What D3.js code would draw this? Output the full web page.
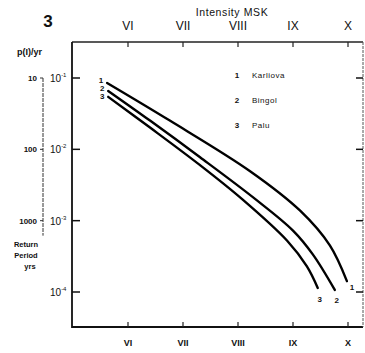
<!DOCTYPE html>
<html><head><meta charset="utf-8">
<script src="https://cdn.jsdelivr.net/npm/d3@7/dist/d3.min.js"></script>
<style>body{margin:0;background:#fff}svg{display:block}text{font-family:"Liberation Sans",Arial,sans-serif;fill:#111}</style>
</head><body>
<svg id="c" width="365" height="353"></svg>
<script>
const intensityTicks = [6, 7, 8, 9, 10];
const intensityLabels = ["VI", "VII", "VIII", "IX", "X"];
const probTicks = [1e-1, 1e-2, 1e-3, 1e-4];
const probExponents = ["-1", "-2", "-3", "-4"];
const returnLabels = ["10", "100", "1000"];
const seriesNames = ["Karliova", "Bingol", "Palu"];
const karliovaI = [5.62, 6.76, 8.22, 9.13, 9.67, 9.98];
const karliovaP = [0.0852, 0.0253, 0.00494, 0.00138, 0.00045, 0.000142];
const bingolI = [5.64, 6.40, 7.31, 8.31, 9.00, 9.36, 9.76];
const bingolP = [0.0659, 0.0253, 0.00774, 0.00202, 0.000726, 0.000337, 0.000107];
const paluI = [5.64, 6.40, 7.31, 8.07, 8.89, 9.25, 9.45];
const paluP = [0.0544, 0.0202, 0.0060, 0.00202, 0.000527, 0.00023, 0.000114];

const svg = d3.select("#c");
const x = d3.scaleLinear().domain([6, 10]).range([128, 348]);
const y = d3.scaleLog().domain([1e-1, 1e-4]).range([78, 292]);
const L = 72, R = 363, T = 42, B = 327;

// frame
svg.append("path").attr("d", `M${L},${T}H${R}`).attr("stroke", "#222").attr("stroke-width", 1.6).attr("fill", "none");
svg.append("path").attr("d", `M${L},${T}V${B}H${R}`).attr("stroke", "#111").attr("stroke-width", 1.8).attr("fill", "none");
svg.append("path").attr("d", `M${R},${T}V${B}`).attr("stroke", "#555").attr("stroke-width", 1).attr("stroke-dasharray", "3,1").attr("fill", "none");

// ticks
intensityTicks.forEach((v, i) => {
  svg.append("line").attr("x1", x(v)).attr("x2", x(v)).attr("y1", T).attr("y2", T + 5).attr("stroke", "#222").attr("stroke-width", 1.2);
  svg.append("line").attr("x1", x(v)).attr("x2", x(v)).attr("y1", B).attr("y2", B - 5).attr("stroke", "#222").attr("stroke-width", 1.2);
  svg.append("text").attr("x", x(v)).attr("y", 30).attr("text-anchor", "middle").attr("font-size", 12).text(intensityLabels[i]);
  svg.append("text").attr("x", x(v)).attr("y", 346).attr("text-anchor", "middle").attr("font-size", 9).attr("font-weight", "bold").text(intensityLabels[i]);
});
probTicks.forEach((v, i) => {
  svg.append("line").attr("x1", L).attr("x2", L + 8).attr("y1", y(v)).attr("y2", y(v)).attr("stroke", "#111").attr("stroke-width", 1.5);
  svg.append("line").attr("x1", R).attr("x2", R - 7).attr("y1", y(v)).attr("y2", y(v)).attr("stroke", "#111").attr("stroke-width", 1.5);
  const t = svg.append("text").attr("x", 50).attr("y", y(v) + 4).attr("font-size", 10);
  t.append("tspan").text("10");
  t.append("tspan").attr("font-size", 6).attr("dy", -5).text(probExponents[i]);
});
// return period axis
svg.append("line").attr("x1", 43).attr("x2", 43).attr("y1", y(1e-1)).attr("y2", y(1e-3) + 15).attr("stroke", "#333").attr("stroke-width", 1).attr("stroke-dasharray", "4,1");
returnLabels.forEach((s, i) => {
  const py = y(probTicks[i]);
  svg.append("line").attr("x1", 40).attr("x2", 43).attr("y1", py).attr("y2", py).attr("stroke", "#333");
  svg.append("text").attr("x", 37).attr("y", py + 3).attr("text-anchor", "end").attr("font-size", 8).attr("font-weight", "bold").text(s);
});
["Return", "Period", "yrs"].forEach((s, i) => {
  svg.append("text").attr("x", i < 2 ? 26 : 30).attr("y", 247 + i * 11).attr("text-anchor", "middle").attr("font-size", 7.5).attr("font-weight", "bold").text(s);
});

// titles
svg.append("text").attr("x", 48).attr("y", 27).attr("text-anchor", "middle").attr("font-size", 17).attr("font-weight", "bold").text("3");
svg.append("text").attr("x", 232).attr("y", 16).attr("text-anchor", "middle").attr("font-size", 10.5).attr("letter-spacing", 0.6).text("Intensity MSK");
svg.append("text").attr("x", 17).attr("y", 55).attr("font-size", 9).attr("font-weight", "bold").text("p(I)/yr");

// curves
const series = [
  {i: karliovaI, p: karliovaP},
  {i: bingolI, p: bingolP},
  {i: paluI, p: paluP}
];
const line = d3.line().curve(d3.curveCatmullRom.alpha(0.5));
series.forEach(s => {
  const pts = s.i.map((v, k) => [x(v), y(s.p[k])]);
  svg.append("path").attr("d", line(pts)).attr("fill", "none").attr("stroke", "#000").attr("stroke-width", 2.4).attr("stroke-linecap", "round");
});
// start labels
series.forEach((s, k) => {
  svg.append("text").attr("x", x(s.i[0]) - 6).attr("y", y(s.p[0]) + [0, 0, 2][k]).attr("text-anchor", "middle").attr("font-size", 8).attr("font-weight", "bold").text(String(k + 1));
});
// end labels
const endOff = [[5, 9], [2, 13], [2, 14]];
series.forEach((s, k) => {
  const n = s.i.length - 1;
  svg.append("text").attr("x", x(s.i[n]) + endOff[k][0]).attr("y", y(s.p[n]) + endOff[k][1]).attr("text-anchor", "middle").attr("font-size", 8).attr("font-weight", "bold").text(String(k + 1));
});
// legend
seriesNames.forEach((n, k) => {
  svg.append("text").attr("x", 237).attr("y", 78 + k * 25).attr("text-anchor", "middle").attr("font-size", 8).attr("font-weight", "bold").text(String(k + 1));
  svg.append("text").attr("x", 252).attr("y", 78 + k * 25).attr("font-size", 8).attr("letter-spacing", 0.5).text(n);
});
</script>
</body></html>
